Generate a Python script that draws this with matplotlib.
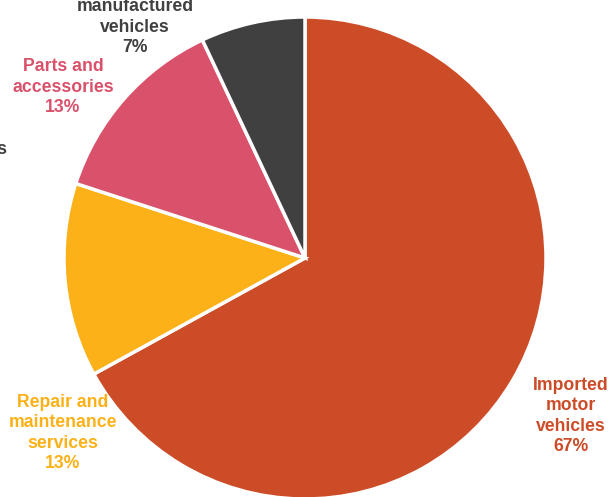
import matplotlib.pyplot as plt

# Data
categories = ['Imported\nmotor\nvehicles', 'Repair and\nmaintenance\nservices',
              'Parts and\naccessories', 'Locally\nmanufactured\nvehicles']
shares = [67, 13, 13, 7]
colors = ['#CD4C28', '#FBB117', '#D9516B', '#404040']

# label anchors in pixel coords (top-left origin), centre of text block
label_pos = [(571, 416), (63, 433), (63, 87), (135, 17)]

W, H = 613, 497
fig = plt.figure(figsize=(W / 100, H / 100), dpi=100)
ax = fig.add_axes([0, 0, 1, 1])

ax.pie(shares, colors=colors, startangle=90, counterclock=False,
       center=(305, H - 258), radius=241,
       wedgeprops=dict(edgecolor='white', linewidth=2.5))
ax.set_xlim(0, W)
ax.set_ylim(0, H)
ax.set_aspect('equal')
ax.axis('off')

for name, val, col, (x, y) in zip(categories, shares, colors, label_pos):
    ax.text(x, H - y, f'{name}\n{val}%', ha='center', va='center',
            color=col, fontsize=12.7, fontweight='bold',
            family='Liberation Sans', linespacing=1.28)

# label cut off at the left edge of the original
ax.text(7, H - 150, 'Others', ha='right', va='center', color='#404040',
        fontsize=12.7, fontweight='bold', family='Liberation Sans')

fig.savefig('out.png', dpi=100)
